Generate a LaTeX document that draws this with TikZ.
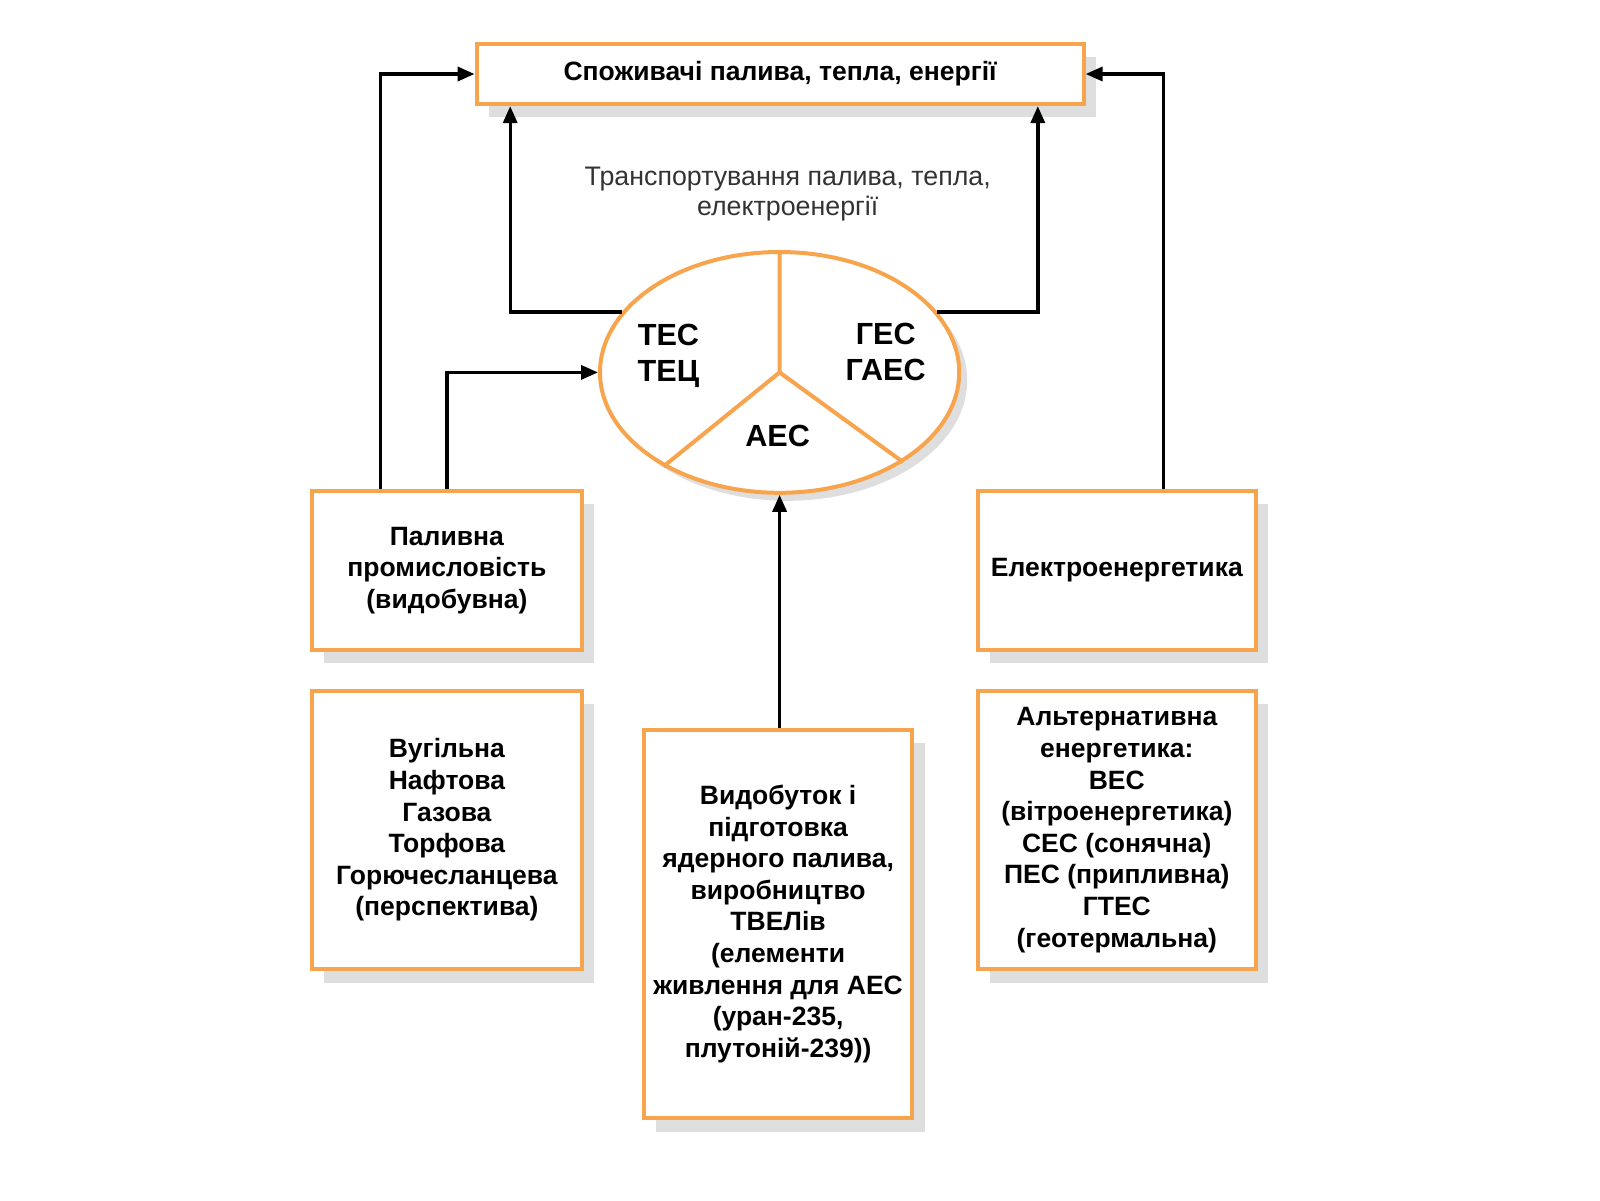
\documentclass[tikz,border=0pt]{standalone}
\usepackage{fontspec}
\setmainfont{Liberation Sans}
\usetikzlibrary{arrows.meta}
\usetikzlibrary{shadows}
\usetikzlibrary{shapes.geometric}

\definecolor{boxorange}{RGB}{247,164,77}
\definecolor{shadowgray}{RGB}{222,222,222}

\tikzset{
  box/.style={draw=boxorange, line width=4pt, fill=white, align=center, inner sep=0pt,
    font=\fontsize{26.5}{31.6}\selectfont\bfseries,
    drop shadow={shadow xshift=12.2pt, shadow yshift=-13.3pt, fill=shadowgray, opacity=1}},
  ring/.style={ellipse, draw=boxorange, line width=4pt, fill=white, inner sep=0pt,
    drop shadow={shadow xshift=8pt, shadow yshift=-8pt, fill=shadowgray, opacity=1}},
  divider/.style={draw=boxorange, line width=4pt},
  plantlabel/.style={align=center, font=\fontsize{30.6}{35.7}\selectfont\bfseries},
  conn/.style={draw=black, line width=3.4pt, -{Triangle[length=17pt,width=14pt]}},
}

\begin{document}
\begin{tikzpicture}[x=1pt,y=-1pt]
\useasboundingbox (0,0) rectangle (1600,1200);

% consumers on top
\node[box, minimum width=607pt, minimum height=60.2pt] (cons) at (780.1,74) {Споживачі палива, тепла, енергії};

% transport label
\node[align=center, text=black!80, font=\fontsize{26.8}{30.6}\selectfont] (transport) at (787.7,193.9)
  {Транспортування палива, тепла,\\електроенергії};

% power plants
\node[ring, minimum width=359.2pt, minimum height=240.8pt] (plants) at (779.6,372.4) {};
\draw[divider] (plants.north) -- (plants.center) -- (plants.219);
\draw[divider] (plants.center) -- (plants.-36);
\node[plantlabel] (tes) at (668.4,356) {ТЕС\\ТЕЦ};
\node[plantlabel] (ges) at (885.7,352) {ГЕС\\ГАЕС};
\node[plantlabel] (aes) at (777.6,435.7) {АЕС};

% left column
\node[box, minimum width=269.4pt, minimum height=159.2pt] (fuel) at (446.9,570.4)
  {Паливна\\промисловість\\(видобувна)};
\node[box, minimum width=269.4pt, minimum height=278.6pt] (coal) at (446.9,830.1)
  {Вугільна\\Нафтова\\Газова\\Торфова\\Горючесланцева\\(перспектива)};

% middle column
\node[box, minimum width=268.4pt, minimum height=388.8pt] (nucfuel) at (778.1,924)
  {Видобуток і\\підготовка\\ядерного палива,\\виробництво\\ТВЕЛів\\(елементи\\живлення для АЕС\\(уран-235,\\плутоній-239))};

% right column
\node[box, minimum width=278.6pt, minimum height=159.2pt] (elec) at (1116.8,570.4) {Електроенергетика};
\node[box, minimum width=278.6pt, minimum height=278.6pt] (alt) at (1116.8,830.1)
  {Альтернативна\\енергетика:\\ВЕС\\(вітроенергетика)\\СЕС (сонячна)\\ПЕС (припливна)\\ГТЕС\\(геотермальна)};

% connectors
\draw[conn] ([xshift=-66.3pt]fuel.north) |- (cons.west);
\draw[conn] (fuel.north) |- (plants.west);
\draw[conn] (plants.159) -| ([xshift=-269.9pt]cons.south);
\draw[conn] (plants.21) -| ([xshift=257.7pt]cons.south);
\draw[conn] ([xshift=46.4pt]elec.north) |- (cons.east);
\draw[conn] (nucfuel.north -| plants.south) -- (plants.south);
\end{tikzpicture}
\end{document}
